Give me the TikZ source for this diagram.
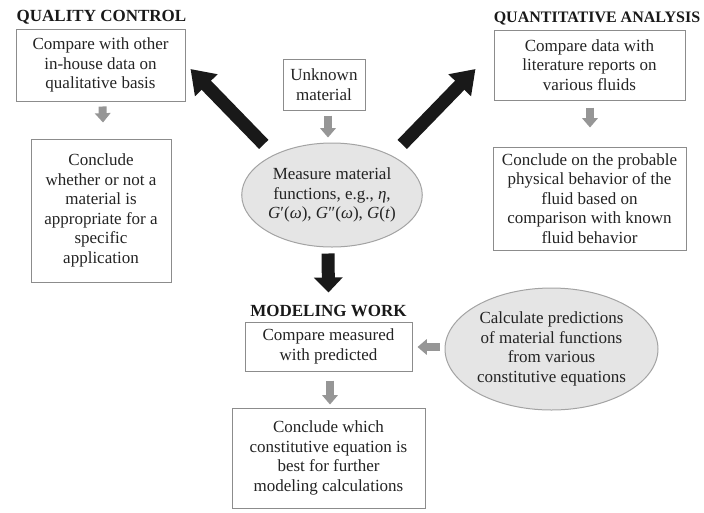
\documentclass[tikz,border=0pt]{standalone}
\usepackage{fontspec}
\setmainfont{Liberation Serif}
\usetikzlibrary{shapes.geometric,arrows.meta}

\definecolor{boxline}{RGB}{140,140,140}
\definecolor{ellfill}{RGB}{229,229,229}
\definecolor{greyarr}{RGB}{150,150,150}
\definecolor{inkcol}{RGB}{35,35,35}

\tikzset{every picture/.style={line width=0.75pt}}
\tikzset{
  flowbox/.style={draw=boxline, line width=0.75pt, inner sep=0pt, align=center, text=inkcol,
    font=\fontsize{12.75}{14.6}\selectfont},
  flowell/.style={ellipse, draw=boxline!80, fill=ellfill, line width=0.75pt, inner sep=0pt,
    align=center, text=inkcol, font=\fontsize{12.75}{14.8}\selectfont},
  headline/.style={inner sep=0pt, text=black!90, font=\fontsize{12.75}{14.6}\selectfont\bfseries},
  greyarrow/.style={draw=greyarr, line width=6pt, -{Triangle[length=7pt,width=11.5pt]}},
  bigarrow/.style={draw=black!90, line width=9.75pt, -{Triangle[length=17pt,width=22.5pt]}},
  downarrow/.style={draw=black!90, line width=9.75pt, -{Triangle[length=11.25pt,width=21pt]}}
}

\begin{document}
\begin{tikzpicture}[x=0.75pt,y=0.75pt,yscale=-1,xscale=1]
		\useasboundingbox (0,0) rectangle (704,512);
		
		%Titles
		\node [headline] (qctitle) at (101.5,17) {QUALITY CONTROL};
		\node [headline, font=\fontsize{12}{14}\selectfont\bfseries] (qatitle) at (597,18) {QUANTITATIVE ANALYSIS};
		\node [headline] (mwtitle) at (328.5,311) {MODELING WORK};
		
		%Shape: Rectangle [quality control]
		\node [flowbox, minimum width=126.75pt, minimum height=54pt] (qccompare) at (100.5,65) {Compare with other\\in-house data on\\qualitative basis};
		\node [flowbox, minimum width=105pt, minimum height=107.25pt] (qcconclude) at (101,210.5) {Conclude\\whether or not a\\material is\\appropriate for a\\specific\\application};
		
		%Shape: Rectangle [unknown material]
		\node [flowbox, minimum width=61.5pt, minimum height=38.25pt] (unknown) at (324,84.5) {Unknown\\material};
		
		%Shape: Ellipse [measure]
		\node [flowell, minimum width=120pt, minimum height=78pt] (measure) at (332,195) {Measure material\\functions, e.g., \textit{η},\\\textit{G}′(\textit{ω}), \textit{G}″(\textit{ω}), \textit{G}(\textit{t})};
		
		%Shape: Rectangle [quantitative analysis]
		\node [flowbox, minimum width=143.25pt, minimum height=52.5pt] (qacompare) at (589.5,65) {Compare data with\\literature reports on\\various fluids};
		\node [flowbox, minimum width=144.75pt, minimum height=77.25pt] (qaconclude) at (589.5,198.5) {Conclude on the probable\\physical behavior of the\\fluid based on\\comparison with known\\fluid behavior};
		
		%Shape: Rectangle [modeling work]
		\node [flowbox, minimum width=125.25pt, minimum height=36.75pt] (mwcompare) at (328.5,346.5) {Compare measured\\with predicted};
		\node [flowbox, minimum width=144.75pt, minimum height=75pt] (mwconclude) at (328.5,458) {Conclude which\\constitutive equation is\\best for further\\modeling calculations};
		
		%Shape: Ellipse [predictions]
		\node [flowell, minimum width=159.75pt, minimum height=91.5pt] (predict) at (551.5,349) {Calculate predictions\\of material functions\\from various\\constitutive equations};
		
		%Grey arrows
		\draw [greyarrow] ([shift={(2,5)}]qccompare.south) -- ([shift={(2,-16)}]qcconclude.north);
		\draw [greyarrow] ([shift={(4,5)}]unknown.south) -- ([shift={(-4,-5)}]measure.north);
		\draw [greyarrow] ([shift={(0.5,7)}]qacompare.south) -- ([shift={(0.5,-19)}]qaconclude.north);
		\draw [greyarrow] ([shift={(-5,-2)}]predict.west) -- ([shift={(5,0.5)}]mwcompare.east);
		\draw [greyarrow] ([shift={(1.5,9)}]mwcompare.south) -- ([shift={(1.5,-3)}]mwconclude.north);
		
		%Black arrows
		\draw [bigarrow] ([shift={(-4,-13.5)}]measure.150) -- ([shift={(5,4)}]qccompare.east);
		\draw [bigarrow] ([shift={(6,-13.5)}]measure.30) -- ([shift={(-18,4)}]qacompare.west);
		\draw [downarrow] ([shift={(-4,6)}]measure.south) -- ([shift={(0,-29)}]mwcompare.north);
		
\end{tikzpicture}
\end{document}
